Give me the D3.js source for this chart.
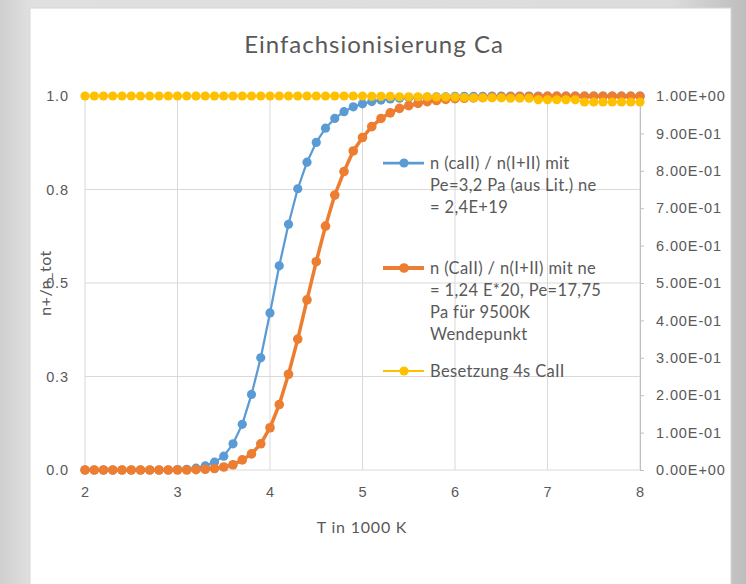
<!DOCTYPE html>
<html lang="de">
<head>
    <meta charset="UTF-8">
    <title>Einfachsionisierung Ca</title>
    <script src="https://d3js.org/d3.v7.min.js"></script>
    <style>
        body { margin: 0; }
        svg { display: block; font-family: Lato, "Open Sans", sans-serif; }
        .grid line { stroke: #d9d9d9; stroke-width: 1; }
        .axis text { fill: #595959; font-size: 14.5px; letter-spacing: 0.9px; }
        .legend text { fill: #595959; font-size: 16.5px; letter-spacing: 0.35px; }
    </style>
</head>
<body>
    <svg width="746" height="584"></svg>
    <script>
// temperatures in 1000 K
const temps = [2, 2.1, 2.2, 2.3, 2.4, 2.5, 2.6, 2.7, 2.8, 2.9,
    3, 3.1, 3.2, 3.3, 3.4, 3.5, 3.6, 3.7, 3.8, 3.9,
    4, 4.1, 4.2, 4.3, 4.4, 4.5, 4.6, 4.7, 4.8, 4.9,
    5, 5.1, 5.2, 5.3, 5.4, 5.5, 5.6, 5.7, 5.8, 5.9,
    6, 6.1, 6.2, 6.3, 6.4, 6.5, 6.6, 6.7, 6.8, 6.9,
    7, 7.1, 7.2, 7.3, 7.4, 7.5, 7.6, 7.7, 7.8, 7.9, 8];

// n(caII)/n(I+II), Pe=3,2 Pa
const seriesLit = [0, 0, 0, 0, 0, 0, 0, 0, 0, 0,
    0.001, 0.002, 0.005, 0.011, 0.021, 0.037, 0.07, 0.122, 0.202, 0.30,
    0.42, 0.546, 0.657, 0.752, 0.823, 0.876, 0.914, 0.94, 0.958, 0.971,
    0.979, 0.985, 0.989, 0.992, 0.994, 0.995, 0.996, 0.997, 0.998, 0.998,
    0.999, 0.999, 0.999, 0.999, 1, 1, 1, 1, 1, 1,
    1, 1, 1, 1, 1, 1, 1, 1, 1, 1, 1];

// n(CaII)/n(I+II), ne = 1,24E20
const seriesWende = [0, 0, 0, 0, 0, 0, 0, 0, 0, 0,
    0, 0, 0.001, 0.002, 0.004, 0.008, 0.014, 0.027, 0.043, 0.07,
    0.113, 0.175, 0.256, 0.35, 0.455, 0.557, 0.652, 0.735, 0.798, 0.853,
    0.889, 0.918, 0.94, 0.955, 0.967, 0.974, 0.98, 0.985, 0.988, 0.991,
    0.993, 0.994, 0.995, 0.996, 0.997, 0.997, 0.998, 0.998, 0.998, 0.998,
    0.999, 0.999, 0.999, 0.999, 0.999, 0.999, 0.999, 0.999, 0.999, 0.999, 0.999];

// Besetzung 4s CaII (secondary axis)
const series4s = [1, 1, 1, 1, 1, 1, 1, 1, 1, 1,
    1, 1, 1, 1, 1, 1, 1, 1, 1, 1,
    1, 1, 1, 1, 1, 1, 1, 1, 1, 1,
    1, 0.999, 0.999, 0.999, 0.998, 0.998, 0.998, 0.998, 0.997, 0.997,
    0.997, 0.996, 0.995, 0.995, 0.995, 0.995, 0.994, 0.994, 0.994, 0.99,
    0.99, 0.99, 0.99, 0.99, 0.984, 0.984, 0.984, 0.984, 0.984, 0.984, 0.984];

const xTicks = [2, 3, 4, 5, 6, 7, 8];
const leftTicks = [0, 0.25, 0.5, 0.75, 1];
const leftTickLabels = ['0.0', '0.3', '0.5', '0.8', '1.0'];
const rightTicks = [0, 0.1, 0.2, 0.3, 0.4, 0.5, 0.6, 0.7, 0.8, 0.9, 1];
const rightTickLabels = ['0.00E+00', '1.00E-01', '2.00E-01', '3.00E-01', '4.00E-01', '5.00E-01',
    '6.00E-01', '7.00E-01', '8.00E-01', '9.00E-01', '1.00E+00'];

const legendLabels = [
    ['n (caII) / n(I+II) mit', 'Pe=3,2 Pa (aus Lit.) ne', '= 2,4E+19'],
    ['n (CaII) / n(I+II) mit ne', '= 1,24 E*20, Pe=17,75', 'Pa für 9500K', 'Wendepunkt'],
    ['Besetzung 4s CaII']
];
const colors = ['#5b9bd5', '#ed7d31', '#ffc000'];

const svg = d3.select('svg');

// background and chart panel
const defs = svg.append('defs');
const grad = defs.append('linearGradient').attr('id', 'bg');
grad.append('stop').attr('offset', '0%').attr('stop-color', '#cfcfcf');
grad.append('stop').attr('offset', '4%').attr('stop-color', '#e0e0e0');
grad.append('stop').attr('offset', '90%').attr('stop-color', '#dcdcdc');
grad.append('stop').attr('offset', '100%').attr('stop-color', '#bdbdbd');
svg.append('rect').attr('width', 746).attr('height', 584).attr('fill', 'url(#bg)');
svg.append('rect').attr('x', 30).attr('y', 8).attr('width', 701).attr('height', 590)
    .attr('fill', '#fff').attr('stroke', '#d6d6d6');

const plot = {left: 85, right: 640, top: 96, bottom: 470};

const x = d3.scaleLinear().domain([2, 8]).range([plot.left, plot.right]);
const y = d3.scaleLinear().domain([0, 1]).range([plot.bottom, plot.top]);
const y2 = d3.scaleLinear().domain([0, 1]).range([plot.bottom, plot.top]);

// gridlines
const grid = svg.append('g').attr('class', 'grid');
grid.selectAll('.v').data(xTicks).enter().append('line')
    .attr('x1', d => x(d)).attr('x2', d => x(d))
    .attr('y1', plot.top).attr('y2', plot.bottom);
grid.selectAll('.h').data(leftTicks).enter().append('line')
    .attr('x1', plot.left).attr('x2', plot.right)
    .attr('y1', d => y(d)).attr('y2', d => y(d));

// x axis
const xAxis = svg.append('g').attr('class', 'axis')
    .attr('transform', `translate(0, ${plot.bottom})`)
    .call(d3.axisBottom(x).tickValues(xTicks).tickSize(0).tickPadding(17).tickFormat(d3.format('d')));
xAxis.select('.domain').remove();

// left axis
const yAxis = svg.append('g').attr('class', 'axis')
    .attr('transform', `translate(${plot.left}, 0)`)
    .call(d3.axisLeft(y).tickValues(leftTicks).tickSize(0).tickPadding(16)
        .tickFormat((d, i) => leftTickLabels[i]));
yAxis.select('.domain').remove();

// right axis
const y2Axis = svg.append('g').attr('class', 'axis')
    .attr('transform', `translate(${plot.right}, 0)`)
    .call(d3.axisRight(y2).tickValues(rightTicks).tickSize(4).tickPadding(12)
        .tickFormat((d, i) => rightTickLabels[i]));
y2Axis.select('.domain').attr('stroke', '#bfbfbf');
y2Axis.selectAll('.tick line').attr('stroke', '#bfbfbf');

// titles
svg.append('text').attr('x', 374).attr('y', 53).attr('text-anchor', 'middle')
    .attr('fill', '#595959').style('font-size', '24px').style('letter-spacing', '1px')
    .text('Einfachsionisierung Ca');
svg.append('text').attr('x', 362).attr('y', 533).attr('text-anchor', 'middle')
    .attr('fill', '#595959').style('font-size', '16px').style('letter-spacing', '0.8px')
    .text('T in 1000 K');
svg.append('text').attr('transform', 'translate(51, 283) rotate(-90)').attr('text-anchor', 'middle')
    .attr('fill', '#595959').style('font-size', '16px').style('letter-spacing', '0.5px')
    .text('n+/n_tot');

// series
const series = [
    {values: seriesLit, scale: y, width: 2.25, r: 4.6},
    {values: seriesWende, scale: y, width: 3.5, r: 4.8},
    {values: series4s, scale: y2, width: 1.5, r: 4.6}
];

series.forEach((s, k) => {
    const pts = temps.map((t, i) => [t, s.values[i]]);
    const line = d3.line().x(d => x(d[0])).y(d => s.scale(d[1]));
    svg.append('path').datum(pts)
        .attr('fill', 'none').attr('stroke', colors[k])
        .attr('stroke-width', s.width).attr('stroke-linejoin', 'round')
        .attr('d', line);
    svg.append('g').selectAll('circle').data(pts).enter().append('circle')
        .attr('cx', d => x(d[0])).attr('cy', d => s.scale(d[1]))
        .attr('r', s.r).attr('fill', colors[k]);
});

// legend
const legendY = [163, 268, 371];
const legend = svg.append('g').attr('class', 'legend');
legendLabels.forEach((lines, k) => {
    const s = series[k];
    legend.append('line').attr('x1', 383).attr('x2', 424)
        .attr('y1', legendY[k]).attr('y2', legendY[k])
        .attr('stroke', colors[k]).attr('stroke-width', s.width + 0.5);
    legend.append('circle').attr('cx', 404).attr('cy', legendY[k]).attr('r', s.r).attr('fill', colors[k]);
    lines.forEach((txt, j) => {
        legend.append('text').attr('x', 430).attr('y', legendY[k] + j * 22)
            .attr('dy', '0.35em').text(txt);
    });
});
    </script>
</body>
</html>
